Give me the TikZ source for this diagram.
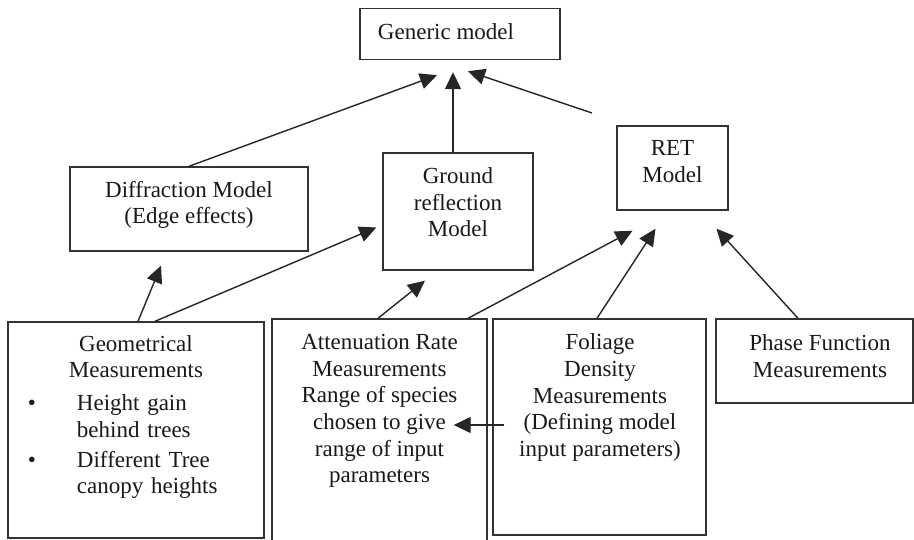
\documentclass[tikz,border=0pt]{standalone}
\usepackage{fontspec}
\setmainfont{Liberation Serif}
\usetikzlibrary{arrows.meta,calc}
\begin{document}
\begin{tikzpicture}[x=1pt,y=-1pt,
  box/.style={draw=black!80, line width=1.4pt, inner sep=0pt, fill=none},
  txt/.style={inner sep=0pt, align=center, font=\fontsize{23}{26.6}\selectfont, text=black!90},
  arr/.style={-{Triangle[length=17pt,width=16pt]}, line width=1.4pt, draw=black!85, fill=black!85}]
\useasboundingbox (0,0) rectangle (914,540);
\fill[white] (0,0) rectangle (914,540);
% boxes
\node[box, minimum width=200pt, minimum height=51pt] (gen) at (460,34) {};
\node[box, minimum width=238pt, minimum height=84pt] (diff) at (189,209) {};
\node[box, minimum width=150pt, minimum height=117pt] (ground) at (458,211.5) {};
\node[box, minimum width=111pt, minimum height=84pt] (ret) at (672.5,168) {};
\node[box, minimum width=256pt, minimum height=216pt] (geo) at (136,430) {};
\node[box, minimum width=215pt, minimum height=241pt] (att) at (379.5,439.5) {};
\node[box, minimum width=213pt, minimum height=216pt] (fol) at (599.5,427) {};
\node[box, minimum width=197pt, minimum height=84pt] (pha) at (814.5,361) {};
% texts
\node[txt] (gen-t) at (446,32) {Generic model};
\node[txt] (diff-t) at (189,205) {Diffraction Model\\(Edge effects)};
\node[txt] (ground-t) at (458,202.5) {Ground\\reflection\\Model};
\node[txt] (ret-t) at (672.5,161.5) {RET\\Model};
\node[txt] (att-t) at (379.5,411) {Attenuation Rate\\Measurements\\Range of species\\chosen to give\\range of input\\parameters};
\node[txt] (fol-t) at (600,397.5) {Foliage\\Density\\Measurements\\(Defining model\\input parameters)};
\node[txt] (pha-t) at (820,356) {Phase Function\\Measurements};
\node[txt, anchor=north, text width=256pt, align=left] (geo-t) at (136,335) {%
  \parindent=0pt\centering Geometrical\\Measurements\par\vspace{6.5pt}%
  \raggedright\leftskip=20pt
  \makebox[49pt][l]{\textbullet}Height gain\\\hspace*{49pt}behind trees\par\vspace{3pt}%
  \makebox[49pt][l]{\textbullet}Different Tree\\\hspace*{49pt}canopy heights\par};
% connectors
\coordinate (retfree) at (592,113);
\draw[arr] (diff.north) -- ($(gen.south)+(-23,15)$);
\draw[arr] ($(ground.north)+(-5,0)$) -- ($(gen.south)+(-7,12)$);
\draw[arr] (retfree) -- ($(gen.south)+(8,11)$);
\draw[arr] ($(geo.north)+(2,0)$) -- ($(diff.south)+(-28,14)$);
\draw[arr] ($(geo.north)+(19,0)$) -- ($(ground.west)+(-6,16)$);
\draw[arr] ($(att.north)+(-1.5,0)$) -- ($(ground.south)+(-33,10)$);
\draw[arr] ($(att.north)+(88.5,0)$) -- ($(ret.south)+(-40,20)$);
\draw[arr] ($(fol.north)+(-2.5,0)$) -- ($(ret.south)+(-17,18)$);
\draw[arr] ($(pha.north)+(-16.5,0)$) -- ($(ret.south)+(44,18)$);
\draw[arr] ($(fol.west)+(12,-2)$) -- ($(att.east)+(-34,-14.5)$);
\end{tikzpicture}
\end{document}
